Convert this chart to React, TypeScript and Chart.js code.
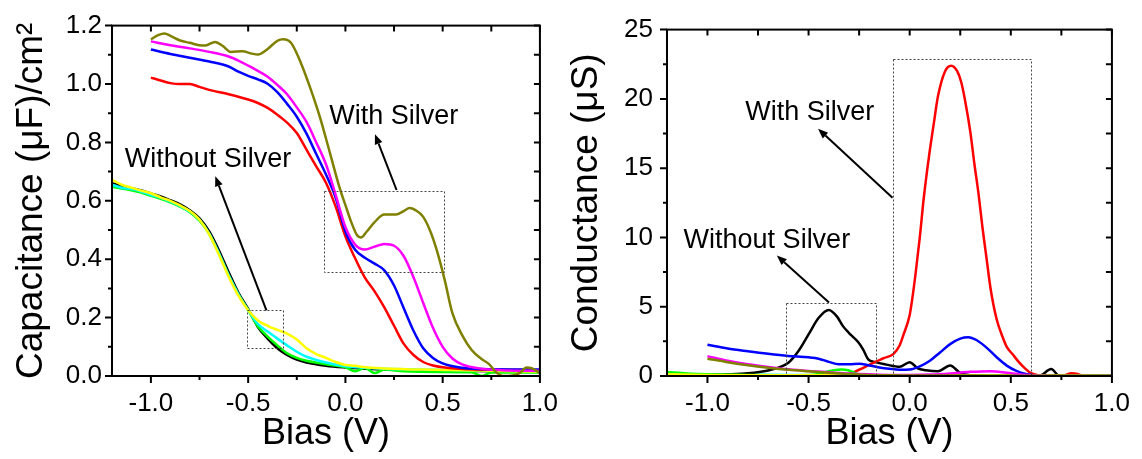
import React, { useEffect, useRef } from 'react';
import { Chart, registerables } from 'chart.js';

Chart.register(...registerables);

const FONT = '"Liberation Sans", Arial, Helvetica, sans-serif';

// ---------- Tick values ----------
const xMajorTicks = [-1.0, -0.5, 0.0, 0.5, 1.0];
const xMinorTicks = [-0.75, -0.25, 0.25, 0.75];
const capMajorTicks = [0, 0.2, 0.4, 0.6, 0.8, 1.0, 1.2];
const capMinorTicks = [0.1, 0.3, 0.5, 0.7, 0.9, 1.1];
const condMajorTicks = [0, 5, 10, 15, 20, 25];
const condMinorTicks = [2.5, 7.5, 12.5, 17.5, 22.5];

// ---------- Capacitance panel (µF/cm²) ----------
const capBlackV = [-1.2, -1.15, -1.1, -1.05, -1.0, -0.95, -0.9, -0.85, -0.8, -0.75, -0.7, -0.65, -0.6, -0.55, -0.5, -0.45, -0.4, -0.35, -0.3, -0.25, -0.2, -0.1, 0.0, 0.1, 0.2, 0.4, 0.6, 0.8, 1.0];
const capBlackC = [0.66, 0.65, 0.643, 0.635, 0.625, 0.615, 0.602, 0.588, 0.568, 0.54, 0.495, 0.43, 0.355, 0.285, 0.23, 0.168, 0.128, 0.095, 0.072, 0.056, 0.046, 0.035, 0.029, 0.025, 0.022, 0.02, 0.018, 0.016, 0.015];

const capGreenV = [-1.2, -1.15, -1.1, -1.05, -1.0, -0.95, -0.9, -0.85, -0.8, -0.75, -0.7, -0.65, -0.6, -0.55, -0.5, -0.45, -0.4, -0.35, -0.3, -0.25, -0.2, -0.1, 0.0, 0.05, 0.1, 0.15, 0.2, 0.3, 0.5, 0.65, 0.7, 0.75, 1.0];
const capGreenC = [0.648, 0.642, 0.636, 0.628, 0.617, 0.607, 0.595, 0.58, 0.561, 0.532, 0.486, 0.418, 0.344, 0.279, 0.226, 0.17, 0.135, 0.105, 0.078, 0.062, 0.052, 0.04, 0.03, 0.016, 0.027, 0.01, 0.022, 0.016, 0.014, 0.013, 0.0, 0.012, 0.012];

const capCyanV = [-1.2, -1.15, -1.1, -1.05, -1.0, -0.95, -0.9, -0.85, -0.8, -0.75, -0.7, -0.65, -0.6, -0.55, -0.5, -0.45, -0.4, -0.35, -0.3, -0.25, -0.2, -0.1, 0.0, 0.1, 0.2, 0.4, 0.6, 0.8, 1.0];
const capCyanC = [0.655, 0.645, 0.64, 0.632, 0.62, 0.61, 0.597, 0.582, 0.563, 0.535, 0.488, 0.42, 0.345, 0.28, 0.226, 0.178, 0.152, 0.128, 0.105, 0.083, 0.066, 0.046, 0.033, 0.028, 0.025, 0.022, 0.02, 0.018, 0.017];

const capYellowV = [-1.2, -1.15, -1.1, -1.05, -1.0, -0.95, -0.9, -0.85, -0.8, -0.75, -0.7, -0.65, -0.6, -0.55, -0.5, -0.45, -0.4, -0.35, -0.3, -0.25, -0.2, -0.15, -0.1, -0.05, 0.0, 0.05, 0.1, 0.2, 0.4, 0.6, 0.8, 1.0];
const capYellowC = [0.672, 0.655, 0.645, 0.635, 0.626, 0.612, 0.6, 0.584, 0.565, 0.535, 0.485, 0.415, 0.34, 0.275, 0.225, 0.19, 0.172, 0.158, 0.145, 0.125, 0.095, 0.075, 0.062, 0.048, 0.038, 0.035, 0.03, 0.026, 0.022, 0.02, 0.017, 0.015];

const capRedV = [-1.0, -0.95, -0.9, -0.85, -0.8, -0.75, -0.7, -0.6, -0.5, -0.45, -0.4, -0.35, -0.3, -0.25, -0.2, -0.15, -0.1, -0.05, 0.0, 0.05, 0.1, 0.15, 0.2, 0.25, 0.3, 0.35, 0.4, 0.45, 0.5, 0.6, 0.8, 1.0];
const capRedC = [1.022, 1.012, 1.003, 1.0, 1.0, 0.99, 0.98, 0.965, 0.947, 0.935, 0.918, 0.895, 0.868, 0.832, 0.775, 0.718, 0.662, 0.58, 0.478, 0.403, 0.337, 0.29, 0.235, 0.172, 0.11, 0.072, 0.048, 0.036, 0.03, 0.024, 0.021, 0.02];

const capBlueV = [-1.0, -0.9, -0.8, -0.7, -0.6, -0.55, -0.5, -0.45, -0.4, -0.35, -0.3, -0.25, -0.2, -0.15, -0.1, -0.05, 0.0, 0.05, 0.1, 0.15, 0.2, 0.25, 0.3, 0.35, 0.4, 0.45, 0.5, 0.6, 0.7, 1.0];
const capBlueC = [1.118, 1.103, 1.09, 1.077, 1.06, 1.042, 1.028, 1.016, 1.001, 0.972, 0.932, 0.888, 0.83, 0.76, 0.69, 0.61, 0.495, 0.432, 0.405, 0.385, 0.362, 0.31, 0.232, 0.155, 0.095, 0.062, 0.043, 0.028, 0.024, 0.022];

const capMagentaV = [-1.0, -0.9, -0.8, -0.7, -0.6, -0.55, -0.5, -0.45, -0.4, -0.35, -0.3, -0.25, -0.2, -0.15, -0.1, -0.05, 0.0, 0.05, 0.1, 0.15, 0.2, 0.25, 0.3, 0.35, 0.4, 0.45, 0.5, 0.55, 0.6, 0.7, 0.8, 1.0];
const capMagentaC = [1.146, 1.133, 1.122, 1.11, 1.094, 1.08, 1.063, 1.045, 1.025, 0.997, 0.965, 0.92, 0.87, 0.8, 0.725, 0.62, 0.51, 0.45, 0.433, 0.443, 0.452, 0.446, 0.41, 0.338, 0.25, 0.165, 0.1, 0.06, 0.04, 0.025, 0.02, 0.018];

const capOliveV = [-1.0, -0.96, -0.93, -0.9, -0.85, -0.8, -0.75, -0.72, -0.67, -0.63, -0.59, -0.53, -0.48, -0.45, -0.4, -0.35, -0.32, -0.28, -0.23, -0.18, -0.13, -0.08, -0.03, 0.0, 0.03, 0.06, 0.08, 0.11, 0.15, 0.2, 0.26, 0.3, 0.33, 0.36, 0.4, 0.44, 0.47, 0.51, 0.55, 0.6, 0.65, 0.7, 0.74, 0.77, 0.81, 0.86, 0.9, 0.93, 0.96, 1.0];
const capOliveC = [1.153, 1.168, 1.173, 1.165, 1.149, 1.141, 1.133, 1.132, 1.144, 1.13, 1.11, 1.112, 1.104, 1.101, 1.12, 1.148, 1.153, 1.141, 1.074, 0.985, 0.884, 0.765, 0.645, 0.585, 0.527, 0.482, 0.474, 0.495, 0.527, 0.553, 0.553, 0.565, 0.575, 0.568, 0.545, 0.49, 0.43, 0.33, 0.215, 0.14, 0.088, 0.058, 0.04, 0.016, 0.0, 0.002, 0.012, 0.029, 0.026, 0.01];

// ---------- Conductance panel (µS) ----------
const condBlackV = [-1.2, -1.0, -0.9, -0.8, -0.7, -0.65, -0.6, -0.55, -0.5, -0.45, -0.4, -0.36, -0.33, -0.3, -0.255, -0.23, -0.205, -0.17, -0.115, -0.05, 0.0, 0.04, 0.08, 0.14, 0.2, 0.25, 0.3, 0.64, 0.7, 0.74, 1.0];
const condBlackG = [0.05, 0.08, 0.12, 0.2, 0.4, 0.6, 0.95, 1.8, 3.0, 4.2, 4.77, 4.3, 3.6, 3.1, 2.45, 1.9, 1.2, 1.0, 0.82, 0.66, 1.0, 0.55, 0.42, 0.35, 0.75, 0.22, 0.05, 0.0, 0.5, 0.0, 0.0];

const condRedV = [-1.0, -0.6, -0.4, -0.3, -0.25, -0.2, -0.18, -0.13, -0.08, -0.05, -0.03, 0.0, 0.015, 0.03, 0.05, 0.07, 0.095, 0.12, 0.14, 0.175, 0.205, 0.235, 0.255, 0.275, 0.3, 0.32, 0.34, 0.36, 0.38, 0.4, 0.43, 0.46, 0.48, 0.51, 0.54, 0.57, 0.6, 0.64, 0.7, 0.76, 0.8, 0.83, 0.86, 1.0];
const condRedG = [0.05, 0.05, 0.08, 0.15, 0.45, 0.8, 0.95, 1.28, 1.6, 2.2, 3.0, 4.4, 5.8, 7.5, 10.0, 12.9, 15.8, 18.3, 20.2, 22.0, 22.4, 22.0, 21.2, 19.8, 17.6, 15.3, 13.2, 10.7, 8.5, 6.3, 4.1, 2.8, 2.1, 1.55, 1.0, 0.55, 0.2, 0.05, 0.0, 0.02, 0.2, 0.15, 0.0, 0.0];

const condBlueV = [-1.0, -0.9, -0.8, -0.7, -0.6, -0.5, -0.45, -0.4, -0.35, -0.3, -0.25, -0.2, -0.15, -0.1, -0.05, 0.0, 0.05, 0.1, 0.15, 0.2, 0.25, 0.29, 0.33, 0.38, 0.43, 0.48, 0.53, 0.58, 0.62, 0.7, 1.0];
const condBlueG = [2.26, 1.98, 1.78, 1.6, 1.45, 1.35, 1.25, 1.02, 0.85, 0.85, 0.88, 0.76, 0.62, 0.52, 0.45, 0.47, 0.7, 1.1, 1.7, 2.3, 2.7, 2.8, 2.6, 2.05, 1.35, 0.75, 0.35, 0.12, 0.04, 0.0, 0.0];

const condGreenV = [-1.2, -1.1, -1.0, -0.8, -0.6, -0.5, -0.45, -0.4, -0.34, -0.3, -0.26, -0.2, 0.0, 0.2, 0.6, 1.0];
const condGreenG = [0.28, 0.18, 0.12, 0.08, 0.06, 0.07, 0.15, 0.35, 0.47, 0.4, 0.15, 0.05, 0.04, 0.03, 0.02, 0.02];

const condCyanV = [-1.2, -1.0, -0.5, 0.0, 1.0];
const condCyanG = [0.15, 0.1, 0.06, 0.05, 0.03];

const condYellowV = [-1.2, -1.0, -0.8, -0.5, 0.0, 0.5, 1.0];
const condYellowG = [0.12, 0.08, 0.06, 0.05, 0.04, 0.03, 0.02];

const condMagentaV = [-1.0, -0.9, -0.8, -0.7, -0.6, -0.5, -0.4, -0.3, -0.2, -0.1, 0.0, 0.1, 0.2, 0.3, 0.4, 0.48, 0.55, 0.62, 0.7, 1.0];
const condMagentaG = [1.42, 1.1, 0.85, 0.65, 0.48, 0.36, 0.27, 0.18, 0.12, 0.08, 0.08, 0.1, 0.18, 0.3, 0.35, 0.23, 0.1, 0.03, 0.0, 0.0];

const condOliveV = [-1.0, -0.9, -0.8, -0.7, -0.6, -0.5, -0.4, -0.3, -0.2, -0.1, 0.0, 0.3, 0.6, 1.0];
const condOliveG = [1.25, 1.0, 0.78, 0.6, 0.45, 0.34, 0.24, 0.14, 0.08, 0.05, 0.04, 0.03, 0.02, 0.02];

// ---------- Colors ----------
const RED = '#FF0000';
const BLUE = '#0000FF';
const MAGENTA = '#FF00FF';
const OLIVE = '#808000';
const BLACK = '#000000';
const GREEN = '#00FF00';
const CYAN = '#00FFFF';
const YELLOW = '#FFFF00';

type Series = { v: number[]; y: number[]; color: string };
type Annot = {
  boxes: number[][];
  arrows: number[][];
  labels: [string, number, number][];
};
type Panel = {
  series: Series[]; // bottom -> top
  yMin: number;
  yMax: number;
  yMajor: number[];
  yMinor: number[];
  yFmt: (v: number) => string;
  yTitle: string;
  yAxisWidth: number;
  yLabelPad: number;
  yTitlePad: number;
  padRight: number;
  annot: Annot;
};

const capPanel: Panel = {
  series: [
    { v: capBlackV, y: capBlackC, color: BLACK },
    { v: capGreenV, y: capGreenC, color: GREEN },
    { v: capCyanV, y: capCyanC, color: CYAN },
    { v: capYellowV, y: capYellowC, color: YELLOW },
    { v: capRedV, y: capRedC, color: RED },
    { v: capBlueV, y: capBlueC, color: BLUE },
    { v: capMagentaV, y: capMagentaC, color: MAGENTA },
    { v: capOliveV, y: capOliveC, color: OLIVE },
  ],
  yMin: 0,
  yMax: 1.2,
  yMajor: capMajorTicks,
  yMinor: capMinorTicks,
  yFmt: (v) => v.toFixed(1),
  yTitle: 'Capacitance (\u03BCF)/cm\u00B2',
  yAxisWidth: 112,
  yLabelPad: 10,
  yTitlePad: 9.5,
  padRight: 25,
  annot: {
    boxes: [[-0.11, 0.357, 0.508, 0.635], [-0.508, 0.095, -0.322, 0.225]],
    arrows: [[0.263, 0.637, 0.152, 0.828], [-0.406, 0.225, -0.669, 0.684]],
    labels: [['With Silver', -0.083, 0.864], ['Without Silver', -1.135, 0.716]],
  },
};

const condPanel: Panel = {
  series: [
    { v: condCyanV, y: condCyanG, color: CYAN },
    { v: condBlackV, y: condBlackG, color: BLACK },
    { v: condRedV, y: condRedG, color: RED },
    { v: condBlueV, y: condBlueG, color: BLUE },
    { v: condGreenV, y: condGreenG, color: GREEN },
    { v: condYellowV, y: condYellowG, color: YELLOW },
    { v: condMagentaV, y: condMagentaG, color: MAGENTA },
    { v: condOliveV, y: condOliveG, color: OLIVE },
  ],
  yMin: 0,
  yMax: 25,
  yMajor: condMajorTicks,
  yMinor: condMinorTicks,
  yFmt: (v) => String(Math.round(v)),
  yTitle: 'Conductance (\u03BCS)',
  yAxisWidth: 107,
  yLabelPad: 14,
  yTitlePad: 4.3,
  padRight: 29,
  annot: {
    boxes: [[-0.083, 0, 0.599, 22.9], [-0.61, 0, -0.166, 5.3]],
    arrows: [[-0.085, 12.87, -0.453, 17.84], [-0.399, 5.3, -0.657, 8.7]],
    labels: [['With Silver', -0.813, 18.45], ['Without Silver', -1.118, 9.21]],
  },
};

function makeFramePlugin(p: Panel) {
  return {
    id: 'frameTicks',
    afterDraw(chart: any) {
      const { ctx, chartArea: a, scales } = chart;
      const xs = scales.x;
      const ys = scales.y;
      const px = (v: number) => xs.getPixelForValue(v);
      const py = (v: number) => ys.getPixelForValue(v);
      ctx.save();

      // dotted boxes
      ctx.strokeStyle = '#444';
      ctx.lineWidth = 1;
      ctx.setLineDash([2, 2]);
      for (const b of p.annot.boxes) {
        const x0 = Math.round(px(b[0])) + 0.5;
        const x1 = Math.round(px(b[2])) + 0.5;
        const y0 = Math.round(py(b[3])) + 0.5;
        const y1 = Math.round(py(b[1])) + 0.5;
        ctx.strokeRect(x0, y0, x1 - x0, y1 - y0);
      }
      ctx.setLineDash([]);

      // arrows
      ctx.strokeStyle = '#000';
      ctx.fillStyle = '#000';
      ctx.lineWidth = 2;
      for (const ar of p.annot.arrows) {
        const x0 = px(ar[0]);
        const y0 = py(ar[1]);
        const x1 = px(ar[2]);
        const y1 = py(ar[3]);
        const ang = Math.atan2(y1 - y0, x1 - x0);
        const hl = 10;
        const hw = 4;
        const bx = x1 - hl * Math.cos(ang);
        const by = y1 - hl * Math.sin(ang);
        ctx.beginPath();
        ctx.moveTo(x0, y0);
        ctx.lineTo(bx, by);
        ctx.stroke();
        ctx.beginPath();
        ctx.moveTo(x1, y1);
        ctx.lineTo(bx + hw * Math.sin(ang), by - hw * Math.cos(ang));
        ctx.lineTo(bx - hw * Math.sin(ang), by + hw * Math.cos(ang));
        ctx.closePath();
        ctx.fill();
      }

      // labels
      ctx.font = `27px ${FONT}`;
      ctx.textAlign = 'left';
      ctx.textBaseline = 'alphabetic';
      for (const l of p.annot.labels) {
        ctx.fillText(l[0], px(l[1]), py(l[2]));
      }

      // frame
      ctx.strokeStyle = '#000';
      ctx.lineWidth = 2;
      ctx.strokeRect(a.left, a.top, a.right - a.left, a.bottom - a.top);

      // ticks
      ctx.beginPath();
      for (const v of xMajorTicks) {
        const x = px(v);
        ctx.moveTo(x, a.bottom);
        ctx.lineTo(x, a.bottom + 7);
        ctx.moveTo(x, a.top);
        ctx.lineTo(x, a.top + 6);
      }
      for (const v of xMinorTicks) {
        const x = px(v);
        ctx.moveTo(x, a.bottom);
        ctx.lineTo(x, a.bottom + 4);
        ctx.moveTo(x, a.top);
        ctx.lineTo(x, a.top + 6);
      }
      for (const v of p.yMajor) {
        const y = py(v);
        ctx.moveTo(a.left, y);
        ctx.lineTo(a.left - 7, y);
        ctx.moveTo(a.right, y);
        ctx.lineTo(a.right - 6, y);
      }
      for (const v of p.yMinor) {
        const y = py(v);
        ctx.moveTo(a.left, y);
        ctx.lineTo(a.left - 4, y);
        ctx.moveTo(a.right, y);
        ctx.lineTo(a.right - 6, y);
      }
      ctx.stroke();
      ctx.restore();
    },
  };
}

function buildChart(canvas: HTMLCanvasElement, p: Panel) {
  const datasets = p.series
    .map((s) => ({
      data: s.v.map((v, i) => ({ x: v, y: s.y[i] })),
      borderColor: s.color,
      backgroundColor: s.color,
      borderWidth: 2.5,
      pointRadius: 0,
      cubicInterpolationMode: 'monotone' as const,
      fill: false,
    }))
    .reverse();

  return new Chart(canvas, {
    type: 'line',
    data: { datasets },
    options: {
      animation: false,
      responsive: false,
      maintainAspectRatio: false,
      events: [],
      layout: { padding: { top: 19, right: p.padRight, left: 0, bottom: 0 } },
      plugins: { legend: { display: false }, tooltip: { enabled: false } },
      scales: {
        x: {
          type: 'linear',
          min: -1.2,
          max: 1.0,
          bounds: 'data',
          afterBuildTicks: (s: any) => {
            s.ticks = xMajorTicks.map((v) => ({ value: v }));
          },
          afterFit: (s: any) => {
            s.height = 83;
          },
          grid: { display: false, drawTicks: false },
          border: { display: false },
          ticks: {
            padding: 12,
            autoSkip: false,
            maxRotation: 0,
            color: '#000',
            font: { family: FONT, size: 26 },
            callback: (v: any) => Number(v).toFixed(1),
          },
          title: {
            display: true,
            text: 'Bias (V)',
            color: '#000',
            font: { family: FONT, size: 36 },
            padding: { top: 0, bottom: 3 },
          },
        },
        y: {
          type: 'linear',
          min: p.yMin,
          max: p.yMax,
          bounds: 'data',
          afterBuildTicks: (s: any) => {
            s.ticks = p.yMajor.map((v) => ({ value: v }));
          },
          afterFit: (s: any) => {
            s.width = p.yAxisWidth;
          },
          grid: { display: false, drawTicks: false },
          border: { display: false },
          ticks: {
            padding: p.yLabelPad,
            autoSkip: false,
            color: '#000',
            font: { family: FONT, size: 26 },
            callback: (v: any) => p.yFmt(Number(v)),
          },
          title: {
            display: true,
            text: p.yTitle,
            color: '#000',
            font: { family: FONT, size: 37 },
            padding: { top: p.yTitlePad, bottom: 0 },
          },
        },
      },
    } as any,
    plugins: [makeFramePlugin(p)],
  });
}

export default function App() {
  const leftRef = useRef<HTMLCanvasElement>(null);
  const rightRef = useRef<HTMLCanvasElement>(null);

  useEffect(() => {
    const c1 = buildChart(leftRef.current!, capPanel);
    const c2 = buildChart(rightRef.current!, condPanel);
    return () => {
      c1.destroy();
      c2.destroy();
    };
  }, []);

  return (
    <div style={{ position: 'fixed', left: 0, top: 0, width: 1142, height: 459, background: '#fff', overflow: 'hidden' }}>
      <canvas
        ref={leftRef}
        width={570}
        height={459}
        style={{ position: 'absolute', left: 0, top: 0, width: 570, height: 459 }}
      />
      <canvas
        ref={rightRef}
        width={582}
        height={459}
        style={{ position: 'absolute', left: 560, top: 0, width: 582, height: 459 }}
      />
    </div>
  );
}
